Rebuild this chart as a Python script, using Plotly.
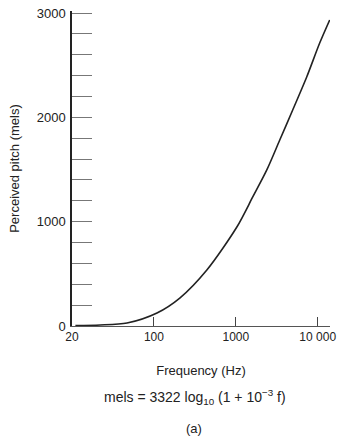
import plotly.graph_objects as go

# Values
freq_hz = [11, 22, 47, 109, 207, 443, 1030, 1610, 2390, 3440, 4950, 7340, 10570, 14000]
pitch_mels = [5, 10, 29, 125, 268, 537, 949, 1237, 1496, 1783, 2071, 2387, 2713, 2934]

x_tick_vals = [10, 100, 1000, 10000]
x_tick_text = ["20", "100", "1000", "10 000"]
y_tick_vals = list(range(0, 3001, 200))
y_tick_text = [str(v) if v % 1000 == 0 else "" for v in y_tick_vals]

FONT = "Liberation Sans"

fig = go.Figure()
fig.add_trace(go.Scatter(
    x=freq_hz, y=pitch_mels, mode="lines",
    line=dict(color="#222", width=1.6, shape="spline", smoothing=0.8),
    showlegend=False, hoverinfo="skip",
))

fig.update_layout(
    width=338, height=441,
    margin=dict(l=72, r=8, t=11, b=115),
    paper_bgcolor="white", plot_bgcolor="white",
    font=dict(family=FONT, size=13, color="#222"),
    xaxis=dict(
        type="log", range=[1, 4.15], automargin=False,
        tickvals=x_tick_vals, ticktext=x_tick_text,
        ticks="inside", ticklen=9, tickwidth=1, tickcolor="#444",
        showline=True, linecolor="#555", linewidth=1,
        showgrid=False, zeroline=False,
        tickfont=dict(size=12),
        title=dict(text="Frequency (Hz)", font=dict(size=13), standoff=22),
    ),
    yaxis=dict(
        range=[0, 3020], automargin=False,
        tickvals=y_tick_vals, ticktext=y_tick_text,
        ticks="inside", ticklen=20, tickwidth=1, tickcolor="#777",
        showline=True, linecolor="#222", linewidth=1.5,
        showgrid=False, zeroline=False,
        tickfont=dict(size=13),
        ticklabelstandoff=2,
        title=dict(text="Perceived pitch (mels)", font=dict(size=13), standoff=14),
    ),
    annotations=[
        dict(text="mels = 3322 log<sub>10</sub> (1 + 10<sup>−3</sup> f)", xref="paper", yref="paper",
             x=0.477, y=-0.225, yanchor="middle", showarrow=False, font=dict(size=14, family=FONT)),
        dict(text="(a)", xref="paper", yref="paper",
             x=0.473, y=-0.324, yanchor="middle", showarrow=False, font=dict(size=13, family=FONT)),
    ],
)

fig.write_html(
    "out.html",
    config={"displayModeBar": False},
    post_script="document.body.style.margin='0';document.body.style.overflow='hidden';",
)
